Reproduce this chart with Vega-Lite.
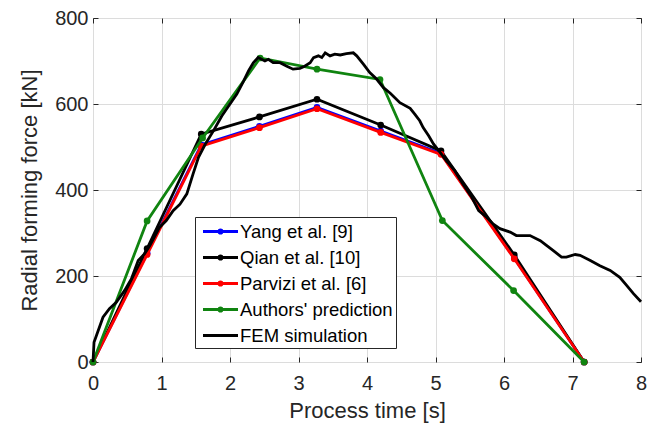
{
  "$schema": "https://vega.github.io/schema/vega-lite/v6.json",
  "width": 548,
  "height": 344,
  "autosize": "none",
  "padding": {"left": 93, "top": 18, "right": 18, "bottom": 65},
  "background": "white",
  "config": {
    "font": "Liberation Sans",
    "view": {"stroke": "#262626", "strokeWidth": 1},
    "axis": {
      "labelFont": "Liberation Sans",
      "titleFont": "Liberation Sans",
      "labelColor": "#262626",
      "titleColor": "#262626",
      "labelFontSize": 20,
      "titleFontSize": 22,
      "titleFontWeight": "normal",
      "gridColor": "#dcdcdc",
      "gridWidth": 1,
      "domain": false,
      "tickColor": "#262626",
      "labelFlush": false,
      "labelOverlap": false
    }
  },
  "datasets": {
    "pts": [
      {"series": "Yang et al. [9]", "t": 0, "force": 0},
      {"series": "Yang et al. [9]", "t": 0.79, "force": 253},
      {"series": "Yang et al. [9]", "t": 1.58, "force": 505},
      {"series": "Yang et al. [9]", "t": 2.43, "force": 548},
      {"series": "Yang et al. [9]", "t": 3.27, "force": 592},
      {"series": "Yang et al. [9]", "t": 4.2, "force": 537},
      {"series": "Yang et al. [9]", "t": 5.08, "force": 485},
      {"series": "Yang et al. [9]", "t": 6.15, "force": 242},
      {"series": "Yang et al. [9]", "t": 7.17, "force": 0},
      {"series": "Qian et al. [10]", "t": 0, "force": 0},
      {"series": "Qian et al. [10]", "t": 0.79, "force": 264},
      {"series": "Qian et al. [10]", "t": 1.58, "force": 530},
      {"series": "Qian et al. [10]", "t": 2.43, "force": 570},
      {"series": "Qian et al. [10]", "t": 3.27, "force": 611},
      {"series": "Qian et al. [10]", "t": 4.2, "force": 551},
      {"series": "Qian et al. [10]", "t": 5.08, "force": 491},
      {"series": "Qian et al. [10]", "t": 6.15, "force": 249},
      {"series": "Qian et al. [10]", "t": 7.17, "force": 0},
      {"series": "Parvizi et al. [6]", "t": 0, "force": 0},
      {"series": "Parvizi et al. [6]", "t": 0.79, "force": 250},
      {"series": "Parvizi et al. [6]", "t": 1.58, "force": 502},
      {"series": "Parvizi et al. [6]", "t": 2.43, "force": 545},
      {"series": "Parvizi et al. [6]", "t": 3.27, "force": 589},
      {"series": "Parvizi et al. [6]", "t": 4.2, "force": 534},
      {"series": "Parvizi et al. [6]", "t": 5.08, "force": 483},
      {"series": "Parvizi et al. [6]", "t": 6.15, "force": 240},
      {"series": "Parvizi et al. [6]", "t": 7.17, "force": 0},
      {"series": "Authors' prediction", "t": 0, "force": 0},
      {"series": "Authors' prediction", "t": 0.79, "force": 328},
      {"series": "Authors' prediction", "t": 1.6, "force": 521},
      {"series": "Authors' prediction", "t": 2.44, "force": 707},
      {"series": "Authors' prediction", "t": 3.27, "force": 681},
      {"series": "Authors' prediction", "t": 4.19, "force": 657},
      {"series": "Authors' prediction", "t": 5.1, "force": 329},
      {"series": "Authors' prediction", "t": 6.14, "force": 166},
      {"series": "Authors' prediction", "t": 7.17, "force": 0}
    ],
    "fem": [
      {"t": 0, "force": 0}, {"t": 0.015, "force": 46}, {"t": 0.146, "force": 104}, {"t": 0.24, "force": 124},
      {"t": 0.34, "force": 139}, {"t": 0.46, "force": 166}, {"t": 0.56, "force": 193}, {"t": 0.66, "force": 236},
      {"t": 0.75, "force": 251}, {"t": 0.83, "force": 271}, {"t": 0.97, "force": 313}, {"t": 1.07, "force": 329},
      {"t": 1.17, "force": 352}, {"t": 1.27, "force": 367}, {"t": 1.37, "force": 391}, {"t": 1.46, "force": 437},
      {"t": 1.54, "force": 476}, {"t": 1.64, "force": 507}, {"t": 1.76, "force": 538}, {"t": 1.88, "force": 572},
      {"t": 2.0, "force": 600}, {"t": 2.1, "force": 623}, {"t": 2.2, "force": 654}, {"t": 2.27, "force": 677},
      {"t": 2.34, "force": 696}, {"t": 2.41, "force": 708}, {"t": 2.51, "force": 700}, {"t": 2.56, "force": 704},
      {"t": 2.63, "force": 696}, {"t": 2.73, "force": 696}, {"t": 2.83, "force": 688}, {"t": 2.92, "force": 681},
      {"t": 3.02, "force": 683}, {"t": 3.09, "force": 688}, {"t": 3.17, "force": 696}, {"t": 3.22, "force": 708},
      {"t": 3.29, "force": 712}, {"t": 3.34, "force": 708}, {"t": 3.39, "force": 719}, {"t": 3.46, "force": 712},
      {"t": 3.53, "force": 716}, {"t": 3.61, "force": 714}, {"t": 3.7, "force": 717}, {"t": 3.8, "force": 719},
      {"t": 3.85, "force": 712}, {"t": 3.95, "force": 692}, {"t": 4.04, "force": 673}, {"t": 4.14, "force": 658},
      {"t": 4.24, "force": 638}, {"t": 4.34, "force": 625}, {"t": 4.48, "force": 603}, {"t": 4.63, "force": 590},
      {"t": 4.7, "force": 576}, {"t": 4.77, "force": 561}, {"t": 4.82, "force": 545}, {"t": 4.9, "force": 526},
      {"t": 4.97, "force": 507}, {"t": 5.07, "force": 487}, {"t": 5.16, "force": 468}, {"t": 5.28, "force": 445},
      {"t": 5.4, "force": 414}, {"t": 5.53, "force": 383}, {"t": 5.63, "force": 352}, {"t": 5.75, "force": 336},
      {"t": 5.84, "force": 321}, {"t": 5.94, "force": 310}, {"t": 6.09, "force": 302}, {"t": 6.18, "force": 294},
      {"t": 6.38, "force": 294}, {"t": 6.53, "force": 282}, {"t": 6.62, "force": 271}, {"t": 6.72, "force": 259},
      {"t": 6.84, "force": 244}, {"t": 6.91, "force": 244}, {"t": 7.04, "force": 250}, {"t": 7.11, "force": 248},
      {"t": 7.26, "force": 236}, {"t": 7.4, "force": 224}, {"t": 7.55, "force": 213}, {"t": 7.69, "force": 197},
      {"t": 7.79, "force": 178}, {"t": 7.89, "force": 159}, {"t": 8.0, "force": 140}
    ],
    "leg": [
      {"series": "Yang et al. [9]", "t": 0, "force": 0},
      {"series": "Qian et al. [10]", "t": 0, "force": 0},
      {"series": "Parvizi et al. [6]", "t": 0, "force": 0},
      {"series": "Authors' prediction", "t": 0, "force": 0},
      {"series": "FEM simulation", "t": 0, "force": 0}
    ]
  },
  "resolve": {"axis": {"x": "independent", "y": "independent"}, "legend": {"color": "independent", "shape": "independent"}},
  "layer": [
    {
      "encoding": {
        "x": {"field": "t", "type": "quantitative", "scale": {"domain": [0, 8], "nice": false},
              "axis": {"values": [0,1,2,3,4,5,6,7,8], "title": "Process time [s]", "ticks": true, "tickSize": -5, "labelPadding": 16, "titlePadding": 7}},
        "y": {"field": "force", "type": "quantitative", "scale": {"domain": [0, 800], "nice": false},
              "axis": {"values": [0,200,400,600,800], "title": "Radial forming force [kN]", "ticks": true, "tickSize": -5, "labelPadding": 10, "titlePadding": 13}}
      },
      "layer": [
        {
          "data": {"name": "pts"},
          "transform": [{"filter": "datum.series === 'Yang et al. [9]'"}],
          "layer": [
            {"mark": {"type": "line", "strokeWidth": 2.8, "color": "#0000ff"}, "encoding": {}},
            {"mark": {"type": "point", "filled": true, "size": 45, "opacity": 1, "color": "#0000ff"}, "encoding": {}}
          ]
        },
        {
          "data": {"name": "pts"},
          "transform": [{"filter": "datum.series === 'Qian et al. [10]'"}],
          "layer": [
            {"mark": {"type": "line", "strokeWidth": 2.8, "color": "#000000"}, "encoding": {}},
            {"mark": {"type": "point", "filled": true, "size": 45, "opacity": 1, "color": "#000000"}, "encoding": {}}
          ]
        },
        {
          "data": {"name": "pts"},
          "transform": [{"filter": "datum.series === 'Parvizi et al. [6]'"}],
          "layer": [
            {"mark": {"type": "line", "strokeWidth": 2.8, "color": "#ff0000"}, "encoding": {}},
            {"mark": {"type": "point", "filled": true, "size": 45, "opacity": 1, "color": "#ff0000"}, "encoding": {}}
          ]
        },
        {
          "data": {"name": "pts"},
          "transform": [{"filter": "datum.series === \"Authors' prediction\""}],
          "layer": [
            {"mark": {"type": "line", "strokeWidth": 2.8, "color": "#108410"}, "encoding": {}},
            {"mark": {"type": "point", "filled": true, "size": 45, "opacity": 1, "color": "#108410"}, "encoding": {}}
          ]
        },
        {
          "data": {"name": "fem"},
          "mark": {"type": "line", "strokeWidth": 2.8, "color": "#000000"},
          "encoding": {}
        }
      ]
    },
    {
      "data": {"name": "leg"},
      "mark": {"type": "point", "filled": false, "opacity": 0, "strokeWidth": 2.8},
      "encoding": {
        "x": {"field": "t", "type": "quantitative", "axis": {"orient": "top", "labels": false, "title": null, "grid": false, "values": [0,1,2,3,4,5,6,7,8], "ticks": true, "tickSize": -5}},
        "y": {"field": "force", "type": "quantitative", "axis": {"orient": "right", "labels": false, "title": null, "grid": false, "values": [0,200,400,600,800], "ticks": true, "tickSize": -5}},
        "color": {
          "field": "series", "type": "nominal",
          "scale": {"domain": ["Yang et al. [9]", "Qian et al. [10]", "Parvizi et al. [6]", "Authors' prediction", "FEM simulation"],
                    "range": ["#0000ff", "#000000", "#ff0000", "#108410", "#000000"]},
          "legend": {
            "title": null, "orient": "none", "legendX": 102, "legendY": 199,
            "labelFont": "Liberation Sans", "labelFontSize": 18.5, "labelColor": "#000000",
            "strokeColor": "#262626", "fillColor": "white", "padding": 3,
            "symbolSize": 400, "symbolOffset": 11, "symbolOpacity": 1, "symbolStrokeWidth": 2.8, "labelOffset": 8, "rowPadding": 5
          }
        },
        "shape": {
          "field": "series", "type": "nominal",
          "scale": {"domain": ["Yang et al. [9]", "Qian et al. [10]", "Parvizi et al. [6]", "Authors' prediction", "FEM simulation"],
                    "range": ["M-1.75,0H1.75M-0.17,0A0.17,0.17 0 1,1 0.17,0A0.17,0.17 0 1,1 -0.17,0", "M-1.75,0H1.75M-0.17,0A0.17,0.17 0 1,1 0.17,0A0.17,0.17 0 1,1 -0.17,0", "M-1.75,0H1.75M-0.17,0A0.17,0.17 0 1,1 0.17,0A0.17,0.17 0 1,1 -0.17,0", "M-1.75,0H1.75M-0.17,0A0.17,0.17 0 1,1 0.17,0A0.17,0.17 0 1,1 -0.17,0", "M-1.75,0H1.75"]},
          "legend": {
            "title": null, "orient": "none", "legendX": 102, "legendY": 199,
            "labelFont": "Liberation Sans", "labelFontSize": 18.5, "labelColor": "#000000",
            "strokeColor": "#262626", "fillColor": "white", "padding": 3,
            "symbolSize": 400, "symbolOffset": 11, "symbolOpacity": 1, "symbolStrokeWidth": 2.8, "labelOffset": 8, "rowPadding": 5
          }
        }
      }
    }
  ]
}
